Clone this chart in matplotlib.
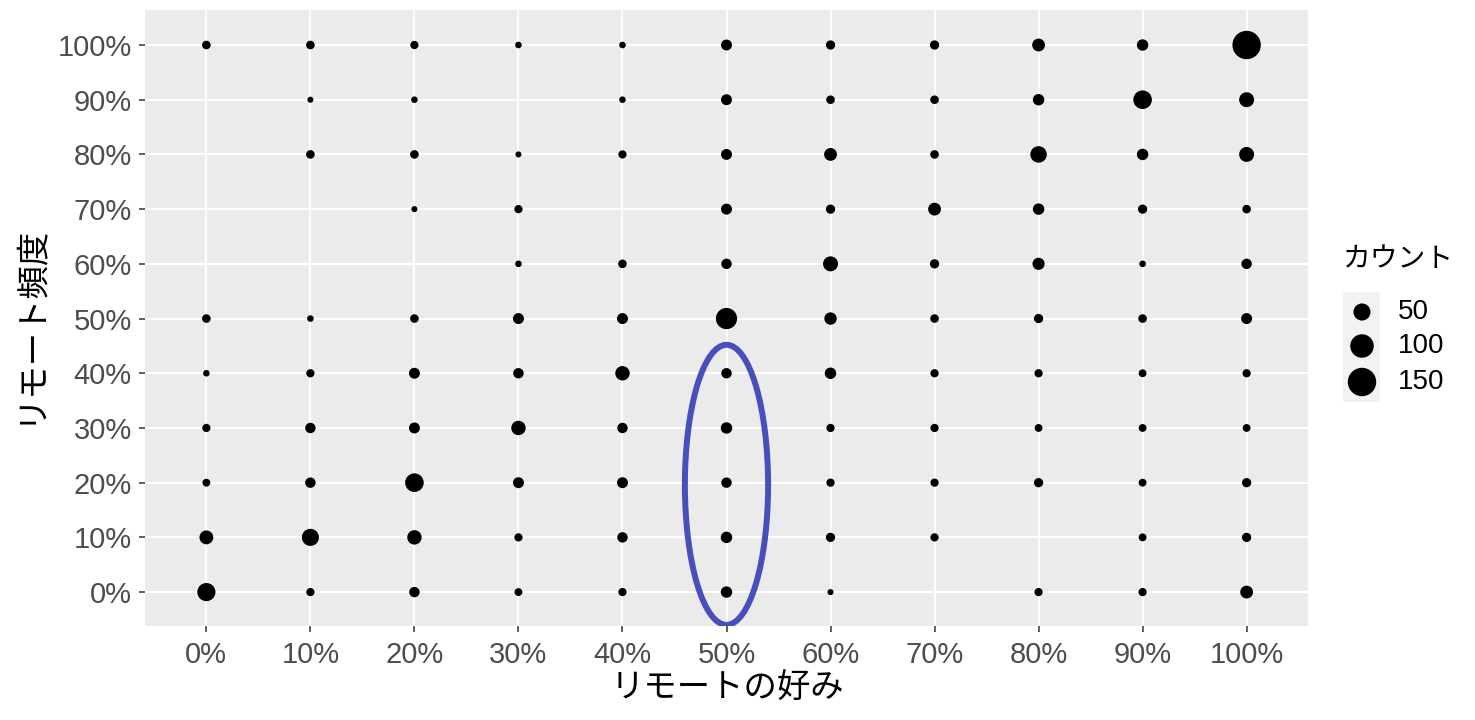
import numpy as np
import matplotlib
matplotlib.use("Agg")
from matplotlib import pyplot as plt
from matplotlib import patches

plt.rcParams['font.family'] = ['Liberation Sans', 'Noto Sans CJK JP', 'DejaVu Sans']

# preference (x) and frequency (y), in percent
x_levels = [0, 10, 20, 30, 40, 50, 60, 70, 80, 90, 100]
y_levels = [0, 10, 20, 30, 40, 50, 60, 70, 80, 90, 100]
tick_labels = [f'{v}%' for v in x_levels]

nan = np.nan
# counts, one row per y level (0% .. 100%), columns are x levels
counts_y0   = [57, 9, 16, 8, 9, 20, 4, nan, 9, 9, 26]
counts_y10  = [31, 50, 34, 9, 16, 20, 12, 9, nan, 8, 12]
counts_y20  = [8, 16, 60, 18, 18, 16, 9, 9, 12, 8, 12]
counts_y30  = [9, 16, 18, 34, 16, 20, 9, 9, 8, 8, 8]
counts_y40  = [5, 9, 18, 16, 34, 16, 20, 9, 9, 8, 9]
counts_y50  = [10, 5, 10, 18, 18, 80, 24, 10, 12, 10, 18]
counts_y60  = [nan, nan, nan, 5, 10, 16, 37, 12, 23, 5, 16]
counts_y70  = [nan, nan, 4, 9, nan, 18, 12, 26, 20, 12, 10]
counts_y80  = [nan, 10, 10, 4, 9, 18, 26, 10, 46, 20, 37]
counts_y90  = [nan, 4, 5, nan, 5, 18, 10, 10, 20, 60, 37]
counts_y100 = [10, 10, 9, 5, 5, 18, 12, 12, 26, 20, 150]

legend_counts = [50, 100, 150]

grid = np.array([counts_y0, counts_y10, counts_y20, counts_y30, counts_y40,
                 counts_y50, counts_y60, counts_y70, counts_y80, counts_y90,
                 counts_y100], dtype=float)

def marker_size( c ) :
    # diameter in pixels ~ 1.7 + 2.18*sqrt(count), converted to points^2
    d_px = 1.7 + 2.18 * np.sqrt( c )
    d_pt = d_px * 72 / 100
    return d_pt ** 2

W , H = 1475 , 720
def px_axes( x0 , y0 , x1 , y1 ) :
    return [ x0 / W , 1 - y1 / H , ( x1 - x0 ) / W , ( y1 - y0 ) / H ]

xx, yy = np.meshgrid( x_levels , y_levels )
mask = ~np.isnan( grid )

fig = plt.figure( figsize = ( 14.75 , 7.2 ) , dpi = 100 )
ax = fig.add_axes( px_axes( 145 , 10 , 1308 , 626 ) )

ax.set_facecolor( '#EBEBEB' )
ax.scatter( xx[ mask ] , yy[ mask ] , s = marker_size( grid[ mask ] ) , c = 'black' ,
            linewidths = 0 , zorder = 3 )

ell = patches.Ellipse( ( 50 , 19.6 ) , 8.0 , 51.2 , fill = False , edgecolor = '#3F47B8' ,
                       linewidth = 4.3 , alpha = 0.95 , zorder = 4 )
ax.add_patch( ell )

ax.set_xlim( -5.9 , 105.9 )
ax.set_ylim( -6.2 , 106.4 )
ax.set_xticks( x_levels )
ax.set_yticks( y_levels )
ax.set_xticklabels( tick_labels )
ax.set_yticklabels( tick_labels )
ax.grid( True , color = 'white' , linewidth = 1.4 , zorder = 0 )
ax.set_axisbelow( True )
for s in ax.spines.values() :
    s.set_visible( False )
ax.tick_params( axis = 'both' , colors = '#333333' , labelcolor = '#4D4D4D' ,
                labelsize = 21 , length = 4 , width = 1.1 )
ax.tick_params( axis = 'x' , pad = 7 )
ax.tick_params( axis = 'y' , pad = 5.5 )

ax.set_xlabel( 'リモートの好み' , fontsize = 24 )
ax.set_ylabel( 'リモート頻度' , fontsize = 24 )
ax.xaxis.set_label_coords( ( 727 - 145 ) / 1163 , ( 626 - 674 ) / 616 )
ax.yaxis.set_label_coords( ( 45 - 145 ) / 1163 , ( 626 - 324 ) / 616 )

# legend, drawn as its own small axes
lg = fig.add_axes( px_axes( 1343 , 292 , 1380 , 402 ) )
lg.set_facecolor( '#F2F2F2' )
lg.set_xlim( 1343 , 1380 )
lg.set_ylim( 402 , 292 )
for s in lg.spines.values() :
    s.set_visible( False )
lg.set_xticks( [] )
lg.set_yticks( [] )
key_y = [ 312 , 346 , 382 ]
lg.scatter( [ 1362 ] * len( legend_counts ) , key_y , s = marker_size( np.array( legend_counts ) ) ,
            c = 'black' , linewidths = 0 , clip_on = False )
for c , yk in zip( legend_counts , key_y ) :
    lg.text( 1398 , yk , str( c ) , fontsize = 20 , va = 'center' , ha = 'left' , clip_on = False )
fig.text( 1343 / W , 1 - 260 / H , 'カウント' , fontsize = 20 , ha = 'left' , va = 'center' )

plt.savefig( 'out.png' , dpi = 100 )
